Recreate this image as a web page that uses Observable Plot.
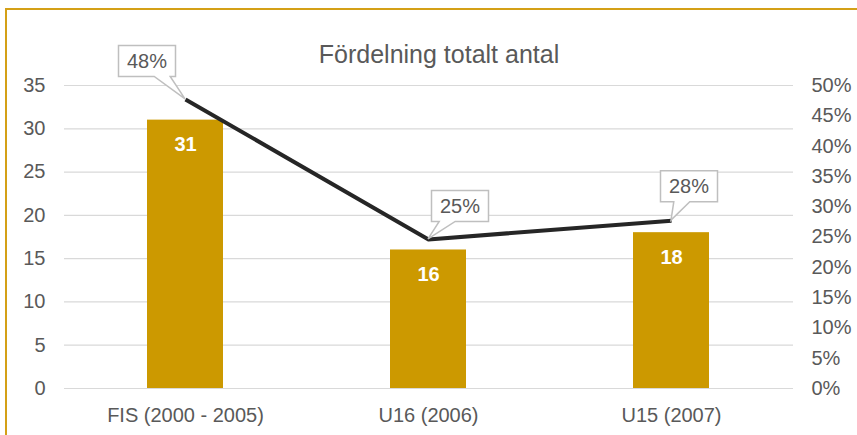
<!DOCTYPE html>
<html><head><meta charset="utf-8">
<script src="https://cdn.jsdelivr.net/npm/d3@7"></script>
<script src="https://cdn.jsdelivr.net/npm/@observablehq/plot@0.6"></script>
<style>
html,body{margin:0;padding:0;background:#fff;overflow:hidden;width:857px;height:435px;}
#wrap{position:relative;width:857px;height:435px;}
#chart{position:absolute;left:0;top:0;}
#frame{position:absolute;left:5px;top:8px;width:900px;height:500px;border:2px solid #D4A017;box-sizing:border-box;pointer-events:none;}
</style></head>
<body><div id="wrap"><div id="chart"></div><div id="frame"></div></div>
<script>
// ---- data ----
const titleText = "Fördelning totalt antal";
const categories = ["FIS (2000 - 2005)", "U16 (2006)", "U15 (2007)"];
const counts = [31, 16, 18];
const shares = [0.477, 0.246, 0.277];
const shareLabels = ["48%", "25%", "28%"];
const leftTicks = [0, 5, 10, 15, 20, 25, 30, 35];
const rightTicks = [0, 0.05, 0.10, 0.15, 0.20, 0.25, 0.30, 0.35, 0.40, 0.45, 0.50];
const rightTickLabels = ["0%", "5%", "10%", "15%", "20%", "25%", "30%", "35%", "40%", "45%", "50%"];

// ---- layout / style ----
const countMax = 35, shareMax = 0.5;
const toCount = p => p / shareMax * countMax;
const gray = "#595959";
const barColor = "#CC9900";
const lineColor = "#262626";
const calloutShift = [[-38, -38], [32, -33], [18, -34]];
const boxW = 57, boxH = 31;

const rows = categories.map((c, i) => ({cat: c, count: counts[i], share: shares[i], label: shareLabels[i]}));

function callouts(index, scales, values, dimensions, context) {
  const g = d3.create("svg:g");
  const bx = scales.x.bandwidth ? scales.x.bandwidth() / 2 : 0;
  rows.forEach((r, i) => {
    const px = scales.x(r.cat) + bx;
    const py = scales.y(toCount(r.share));
    const cx = px + calloutShift[i][0], cy = py + calloutShift[i][1];
    const l = cx - boxW / 2, rr = cx + boxW / 2, t = cy - boxH / 2, b = cy + boxH / 2;
    const bc = cx + 0.4 * (px - cx);
    const a0 = Math.max(l + 1, bc - 8), a1 = Math.min(rr - 1, bc + 8);
    const d = `M${l},${t}H${rr}V${b}H${a1}L${px},${py}L${a0},${b}H${l}Z`;
    g.append("path").attr("d", d).attr("fill", "white").attr("stroke", "#bfbfbf").attr("stroke-width", 1.5);
    g.append("text").attr("x", cx).attr("y", cy).attr("dy", "0.36em")
      .attr("text-anchor", "middle").attr("fill", gray).attr("font-size", 20).text(r.label);
  });
  return g.node();
}

const plot = Plot.plot({
  width: 857,
  height: 435,
  marginLeft: 64,
  marginRight: 64,
  marginTop: 85,
  marginBottom: 47,
  style: {fontFamily: "'Liberation Sans', Arial, sans-serif", fontSize: "20px", color: gray, background: "white"},
  x: {domain: categories, paddingInner: 0.686, paddingOuter: 0.343, axis: null, label: null},
  y: {domain: [0, countMax], axis: null, label: null},
  marks: [
    Plot.ruleY(leftTicks, {stroke: "#d9d9d9", strokeWidth: 1.2}),
    Plot.barY(rows, {x: "cat", y: "count", fill: barColor}),
    Plot.text(rows, {x: "cat", y: "count", text: d => String(d.count), dy: 24.5, fill: "white", fontWeight: "bold", fontSize: 20}),
    Plot.line(rows, {x: "cat", y: d => toCount(d.share), stroke: lineColor, strokeWidth: 4, strokeLinecap: "butt"}),
    callouts,
    Plot.axisX({tickSize: 0, tickPadding: 19.5, fontSize: 20, label: null}),
    Plot.axisY(leftTicks, {anchor: "left", tickSize: 0, tickPadding: 19, fontSize: 20, label: null}),
    Plot.axisY(rightTicks.map(toCount), {anchor: "right", tickSize: 0, tickPadding: 18, fontSize: 20, label: null,
      tickFormat: (v) => rightTickLabels[rightTicks.findIndex(p => Math.abs(toCount(p) - v) < 1e-6)]}),
    Plot.text([titleText], {frameAnchor: "top", dx: 10, dy: -40.5, fontSize: 25, fill: gray, text: d => d})
  ]
});
document.getElementById("chart").appendChild(plot);
</script>
</body></html>
